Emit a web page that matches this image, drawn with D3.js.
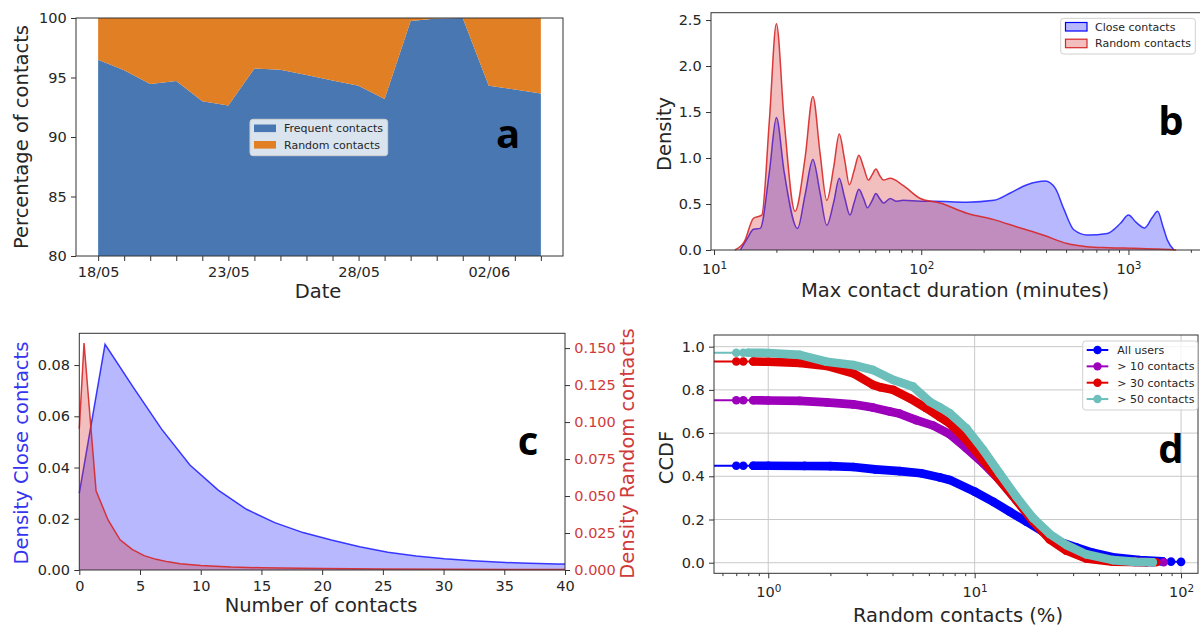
<!DOCTYPE html>
<html>
<head>
<meta charset="utf-8">
<script src="https://cdnjs.cloudflare.com/ajax/libs/d3/7.8.5/d3.min.js"></script>
<style>
  body { margin: 0; background: #fff; }
  svg { font-family: "DejaVu Sans", sans-serif; }
</style>
</head>
<body>
<svg id="fig" width="1200" height="626"></svg>
<script>
// ---------- panel a : daily share of contacts
var daysA = ['18/05/2020','19/05/2020','20/05/2020','21/05/2020','22/05/2020','23/05/2020',
  '24/05/2020','25/05/2020','26/05/2020','27/05/2020','28/05/2020','29/05/2020','30/05/2020',
  '31/05/2020','01/06/2020','02/06/2020','03/06/2020','04/06/2020'];
var frequentPct = [96.5, 95.6, 94.45, 94.7, 93.0, 92.65, 95.75, 95.65, 95.2, 94.75, 94.3, 93.2, 99.75, 99.95, 100, 94.3, 94.0, 93.65];
var randomPct = [3.5, 4.4, 5.55, 5.3, 7.0, 7.35, 4.25, 4.35, 4.8, 5.25, 5.7, 6.8, 0.25, 0.05, 0, 5.7, 6.0, 6.35];
var tickLabelsA = ['18/05', '23/05', '28/05', '02/06'];
var yTicksA = [80, 85, 90, 95, 100];
var seriesA = ['Frequent contacts', 'Random contacts'];

// ---------- panel b : max contact duration density (minutes)
var closeDurX = [13.4, 14.5, 15.5, 16.7, 18.5, 20, 21.8, 25.3, 27.5, 30, 32.5, 35, 37.8, 40.2, 42.7, 45.3, 47.5, 50, 52.7, 55, 58, 60.4, 63, 65.8, 70.8, 76, 82, 100, 115, 166, 224, 269, 324, 397, 444, 487, 545, 632, 791, 915, 1000, 1090, 1197, 1300, 1383, 1470, 1540, 1660];
var closeDurY = [0, 0.13, 0.225, 0.235, 0.85, 1.44, 0.85, 0.235, 0.6, 0.985, 0.62, 0.27, 0.52, 0.78, 0.57, 0.38, 0.52, 0.66, 0.56, 0.46, 0.54, 0.615, 0.56, 0.51, 0.56, 0.53, 0.54, 0.53, 0.53, 0.52, 0.54, 0.62, 0.71, 0.75, 0.67, 0.45, 0.22, 0.163, 0.18, 0.29, 0.38, 0.30, 0.24, 0.35, 0.42, 0.25, 0.11, 0];
var randDurX = [12.6, 14.0, 15.5, 17.0, 18.5, 20, 21.8, 24.6, 27.5, 30, 32.5, 35, 37.8, 40.2, 42.7, 45, 47.5, 50, 52.7, 55.6, 58, 60.4, 63, 65.8, 70.8, 82, 99, 123.5, 166, 224, 290, 390, 506, 632, 800, 1060, 1400, 1700];
var randDurY = [0, 0.09, 0.345, 0.38, 1.41, 2.46, 1.41, 0.42, 1.0, 1.67, 1.05, 0.54, 0.9, 1.26, 0.98, 0.71, 0.87, 1.03, 0.9, 0.76, 0.82, 0.88, 0.81, 0.76, 0.78, 0.70, 0.56, 0.51, 0.40, 0.33, 0.25, 0.16, 0.07, 0.036, 0.025, 0.018, 0.01, 0];
var yTicksB = [0, 0.5, 1.0, 1.5, 2.0, 2.5];
var densityNames = ['Close contacts', 'Random contacts'];

// ---------- panel c : number of contacts density
var closeNumX = [0, 2.12, 4.45, 6.78, 9.11, 11.44, 13.77, 16.1, 18.43, 20.76, 23.09, 25.42, 27.75, 30.08, 32.41, 34.74, 37.07, 39.4, 40];
var closeNumY = [0.030, 0.0881, 0.0713, 0.055, 0.041, 0.0312, 0.0237, 0.0185, 0.0146, 0.0117, 0.0091, 0.0069, 0.0055, 0.0044, 0.0036, 0.0030, 0.0026, 0.0023, 0.0023];
var randNumX = [0, 0.39, 1.38, 2.37, 3.36, 4.35, 5.34, 6.33, 7.32, 8.31, 10, 12.5, 15, 20, 25, 30, 40];
var randNumY = [0.0955, 0.1534, 0.0535, 0.0338, 0.0204, 0.0140, 0.0097, 0.0072, 0.0055, 0.0042, 0.0030, 0.0020, 0.0015, 0.0010, 0.0007, 0.0005, 0.0003];
var xTicksC = [0, 5, 10, 15, 20, 25, 30, 35, 40];
var yTicksCL = [0, 0.02, 0.04, 0.06, 0.08];
var yTicksCR = [0, 0.025, 0.05, 0.075, 0.1, 0.125, 0.15];

// ---------- panel d : CCDF of random contacts (%)
var allUsersX = [0, 0.70, 0.757, 0.846, 1.0, 1.5, 2.0, 2.58, 3.3, 4.33, 5.5, 6.77, 7.57, 10, 12.3, 14.8, 17.8, 21.4, 25.8, 31, 37.4, 46.7, 62.8, 81.5, 89.4, 100];
var allUsersY = [0.449, 0.449, 0.449, 0.449, 0.449, 0.448, 0.447, 0.443, 0.432, 0.424, 0.414, 0.395, 0.383, 0.329, 0.282, 0.236, 0.19, 0.144, 0.097, 0.071, 0.046, 0.025, 0.0125, 0.006, 0.005, 0.004];
var tenX = [0, 0.70, 0.757, 0.846, 1.0, 1.42, 1.92, 2.58, 3.22, 3.88, 4.33, 5.22, 6.29, 7.57, 9.12, 11, 13.2, 15.9, 19.2, 23.1, 27.8, 34.7, 46.7, 60, 72.9, 82.4];
var tenY = [0.752, 0.752, 0.752, 0.752, 0.751, 0.749, 0.742, 0.733, 0.718, 0.70, 0.69, 0.66, 0.635, 0.595, 0.53, 0.46, 0.383, 0.29, 0.198, 0.12, 0.067, 0.028, 0.009, 0.004, 0.002, 0.002];
var thirtyX = [0, 0.70, 0.757, 0.846, 1.0, 1.42, 1.92, 2.58, 3.22, 3.5, 4.03, 4.85, 5.84, 6.77, 7.57, 9.12, 11, 13.2, 15.9, 19.2, 23.1, 27.8, 34.7, 46.7, 67.7, 75.7];
var thirtyY = [0.931, 0.931, 0.931, 0.931, 0.93, 0.925, 0.911, 0.877, 0.823, 0.812, 0.80, 0.761, 0.715, 0.675, 0.645, 0.568, 0.475, 0.383, 0.29, 0.19, 0.108, 0.056, 0.02, 0.005, 0.002, 0.002];
var fiftyX = [0, 0.70, 0.757, 0.80, 1.0, 1.42, 1.92, 2.58, 3.22, 4.03, 5.03, 6.06, 6.77, 7.57, 9.12, 11, 13.2, 15.9, 19.2, 23.1, 27.8, 34.7, 46.7, 60, 72.9];
var fiftyY = [0.972, 0.972, 0.972, 0.972, 0.971, 0.962, 0.93, 0.915, 0.892, 0.846, 0.815, 0.745, 0.72, 0.692, 0.622, 0.522, 0.414, 0.306, 0.206, 0.133, 0.082, 0.039, 0.012, 0.004, 0.002];
// index range where the markers pile up into a solid band
var allUsersBand = [3, 23], tenBand = [3, 24], thirtyBand = [3, 24], fiftyBand = [3, 24];
var ccdfNames = ['All users', '> 10 contacts', '> 30 contacts', '> 50 contacts'];
var yTicksD = [0, 0.2, 0.4, 0.6, 0.8, 1.0];

var svg = d3.select('#fig');
var TXT = '#262626', SPINE = '#333';

function styleAxis(g, color) {
  g.select('.domain').remove();
  g.selectAll('.tick line').attr('stroke', SPINE);
  g.selectAll('.tick text').attr('fill', color || TXT).attr('font-size', 14.5)
    .attr('font-family', '"DejaVu Sans", sans-serif');
  return g;
}
function supTicks(g) {
  // 10^k labels like matplotlib's log formatter
  g.selectAll('.tick text').each(function (d) {
    var t = d3.select(this);
    t.text('10');
    t.append('tspan').attr('dy', '-0.5em').attr('font-size', '0.72em').text(Math.round(Math.log10(d)));
  });
}
function frame(x0, y0, x1, y1) {
  svg.append('rect').attr('x', x0).attr('y', y0).attr('width', x1 - x0).attr('height', y1 - y0)
    .attr('fill', 'none').attr('stroke', SPINE).attr('stroke-width', 1);
}
function yLabel(txt, x, y, color) {
  svg.append('text').attr('transform', 'translate(' + x + ',' + y + ') rotate(-90)')
    .attr('text-anchor', 'middle').attr('font-size', 19.5).attr('fill', color || TXT).text(txt);
}
function xLabel(txt, x, y) {
  svg.append('text').attr('x', x).attr('y', y).attr('text-anchor', 'middle')
    .attr('font-size', 19.5).attr('fill', TXT).text(txt);
}
function tag(txt, x, y) {
  svg.append('text').attr('x', x).attr('y', y).attr('text-anchor', 'middle')
    .attr('font-family', '"Open Sans", sans-serif').attr('font-weight', 700)
    .attr('font-size', 40).attr('fill', '#000').text(txt);
}
function logMinor(lo, hi) {
  var out = [];
  for (var e = Math.floor(Math.log10(lo)); e <= Math.ceil(Math.log10(hi)); e++) {
    for (var m = 2; m <= 9; m++) {
      var v = m * Math.pow(10, e);
      if (v >= lo && v <= hi) out.push(v);
    }
  }
  return out;
}

// =============== a ===============
(function () {
  var L = 76, R = 563, T = 18, B = 256;
  var parseDay = d3.timeParse('%d/%m/%Y');
  var dates = daysA.map(parseDay);
  var pad = 0.85 * 864e5;
  var x = d3.scaleTime().domain([new Date(+dates[0] - pad), new Date(+dates[dates.length - 1] + pad)]).range([L, R]);
  var y = d3.scaleLinear().domain([80, 100]).range([B, T]).clamp(true);
  var colors = ['#4877b1', '#e17f25'];

  var rows = dates.map(function (d, i) { return { date: d, frequent: frequentPct[i], random: randomPct[i] }; });
  var stacked = d3.stack().keys(['frequent', 'random'])(rows);
  var area = d3.area()
    .x(function (d) { return x(d.data.date); })
    .y0(function (d) { return y(d[0]); })
    .y1(function (d) { return y(d[1]); });
  svg.append('g').selectAll('path').data(stacked).enter().append('path')
    .attr('d', area).attr('fill', function (d, i) { return colors[i]; });

  var fmt = d3.timeFormat('%d/%m');
  styleAxis(svg.append('g').attr('transform', 'translate(0,' + B + ')')
    .call(d3.axisBottom(x).tickValues(dates).tickSize(5).tickPadding(5.5)
      .tickFormat(function (d) { var s = fmt(d); return tickLabelsA.indexOf(s) >= 0 ? s : ''; })));
  styleAxis(svg.append('g').attr('transform', 'translate(' + L + ',0)')
    .call(d3.axisLeft(y).tickValues(yTicksA).tickSize(5).tickPadding(4.3)));
  frame(L, T, R, B);

  // legend
  var lg = svg.append('g');
  lg.append('rect').attr('x', 250).attr('y', 119.3).attr('width', 137.7).attr('height', 36.4).attr('rx', 3)
    .attr('fill', '#fff').attr('fill-opacity', 0.8).attr('stroke', '#d0d0d0');
  seriesA.forEach(function (s, i) {
    lg.append('rect').attr('x', 254).attr('y', 124.5 + i * 16.5).attr('width', 22).attr('height', 7.6).attr('fill', colors[i]);
    lg.append('text').attr('x', 284).attr('y', 128.3 + i * 16.5).attr('dy', '0.35em')
      .attr('font-size', 11).attr('fill', TXT).text(s);
  });

  yLabel('Percentage of contacts', 27.5, 137);
  xLabel('Date', 318, 298);
  tag('a', 508, 148);
})();

// =============== b ===============
(function () {
  var L = 711, R = 1199, T = 12.7, B = 250;
  var x = d3.scaleLog().domain([9.67, 2190]).range([L, R]);
  var y = d3.scaleLinear().domain([0, 2.58]).range([B, T]);
  var blue = '#0000ff', red = '#d62728';

  var area = d3.area().curve(d3.curveMonotoneX)
    .x(function (d) { return x(d[0]); }).y0(B).y1(function (d) { return y(d[1]); });
  var line = d3.line().curve(d3.curveMonotoneX)
    .x(function (d) { return x(d[0]); }).y(function (d) { return y(d[1]); });
  var close = d3.zip(closeDurX, closeDurY), rand = d3.zip(randDurX, randDurY);

  svg.append('path').attr('d', area(close)).attr('fill', blue).attr('fill-opacity', 0.28);
  svg.append('path').attr('d', line(close)).attr('fill', 'none').attr('stroke', blue).attr('stroke-opacity', 0.75).attr('stroke-width', 1.5);
  svg.append('path').attr('d', area(rand)).attr('fill', red).attr('fill-opacity', 0.3);
  svg.append('path').attr('d', line(rand)).attr('fill', 'none').attr('stroke', red).attr('stroke-opacity', 0.9).attr('stroke-width', 1.5);

  var gx = styleAxis(svg.append('g').attr('transform', 'translate(0,' + B + ')')
    .call(d3.axisBottom(x).tickValues([10, 100, 1000]).tickSize(5).tickPadding(9)));
  supTicks(gx);
  styleAxis(svg.append('g').attr('transform', 'translate(0,' + B + ')')
    .call(d3.axisBottom(x).tickValues(logMinor(9.67, 2190)).tickSize(2.8).tickFormat('')));
  styleAxis(svg.append('g').attr('transform', 'translate(' + L + ',0)')
    .call(d3.axisLeft(y).tickValues(yTicksB).tickSize(5).tickPadding(4.3).tickFormat(d3.format('.1f'))));
  frame(L, T, R + 5, B);

  var lg = svg.append('g');
  lg.append('rect').attr('x', 1060.7).attr('y', 18.3).attr('width', 134.6).attr('height', 35.7).attr('rx', 3)
    .attr('fill', '#fff').attr('fill-opacity', 0.8).attr('stroke', '#d0d0d0');
  [blue, red].forEach(function (c, i) {
    lg.append('rect').attr('x', 1065.5).attr('y', 22.5 + i * 16.7).attr('width', 21.5).attr('height', 8.5)
      .attr('fill', c).attr('fill-opacity', i ? 0.3 : 0.28).attr('stroke', c).attr('stroke-width', 1.2);
    lg.append('text').attr('x', 1095).attr('y', 26.8 + i * 16.7).attr('dy', '0.35em')
      .attr('font-size', 11).attr('fill', TXT).text(densityNames[i]);
  });

  yLabel('Density', 671, 134);
  xLabel('Max contact duration (minutes)', 955, 297);
  tag('b', 1171, 135);
})();

// =============== c ===============
(function () {
  var L = 79.3, R = 565, T = 333.3, B = 570;
  var x = d3.scaleLinear().domain([0, 40]).range([L, R]);
  var yl = d3.scaleLinear().domain([0, 0.0924]).range([B, T]);
  var yr = d3.scaleLinear().domain([0, 0.160]).range([B, T]);
  var blue = '#0000ff', red = '#d62728';

  var close = d3.zip(closeNumX, closeNumY), rand = d3.zip(randNumX, randNumY);
  function areaOf(ys) {
    return d3.area().x(function (d) { return x(d[0]); }).y0(B).y1(function (d) { return ys(d[1]); });
  }
  function lineOf(ys) {
    return d3.line().x(function (d) { return x(d[0]); }).y(function (d) { return ys(d[1]); });
  }
  svg.append('path').attr('d', areaOf(yl)(close)).attr('fill', blue).attr('fill-opacity', 0.28);
  svg.append('path').attr('d', lineOf(yl)(close)).attr('fill', 'none').attr('stroke', blue).attr('stroke-opacity', 0.75).attr('stroke-width', 1.5);
  svg.append('path').attr('d', areaOf(yr)(rand)).attr('fill', red).attr('fill-opacity', 0.3);
  svg.append('path').attr('d', lineOf(yr)(rand)).attr('fill', 'none').attr('stroke', red).attr('stroke-opacity', 0.9).attr('stroke-width', 1.5);

  styleAxis(svg.append('g').attr('transform', 'translate(0,' + B + ')')
    .call(d3.axisBottom(x).tickValues(xTicksC).tickSize(5).tickPadding(5.5)));
  styleAxis(svg.append('g').attr('transform', 'translate(' + L + ',0)')
    .call(d3.axisLeft(yl).tickValues(yTicksCL).tickSize(5).tickPadding(4.3).tickFormat(d3.format('.2f'))));
  styleAxis(svg.append('g').attr('transform', 'translate(' + R + ',0)')
    .call(d3.axisRight(yr).tickValues(yTicksCR).tickSize(5).tickPadding(4.3).tickFormat(d3.format('.3f'))), '#cf3a3a');
  frame(L, T, R, B);

  yLabel('Density Close contacts', 27.5, 453, '#3535f0');
  yLabel('Density Random contacts', 634, 453.5, '#cf3a3a');
  xLabel('Number of contacts', 321, 611.5);
  tag('c', 528, 455);
})();

// =============== d ===============
(function () {
  var L = 714, R = 1198, T = 335, B = 573.3;
  var x = d3.scaleLog().domain([0.546, 120.8]).range([L, R]).clamp(true);
  var y = d3.scaleLinear().domain([-0.049, 1.054]).range([B, T]);
  var colors = ['#0000ff', '#9c00ba', '#e00000', '#6cbfbb'];
  var xs = [allUsersX, tenX, thirtyX, fiftyX];
  var ys = [allUsersY, tenY, thirtyY, fiftyY];
  var bands = [allUsersBand, tenBand, thirtyBand, fiftyBand];

  // grid
  var grid = svg.append('g').attr('stroke', '#c9c9c9').attr('stroke-width', 1);
  grid.selectAll('.gy').data(yTicksD).enter().append('line')
    .attr('x1', L).attr('x2', R).attr('y1', function (d) { return y(d); }).attr('y2', function (d) { return y(d); });
  grid.selectAll('.gx').data([1, 10, 100]).enter().append('line')
    .attr('y1', T).attr('y2', B).attr('x1', function (d) { return x(d); }).attr('x2', function (d) { return x(d); });

  var line = d3.line().x(function (d) { return x(d[0]); }).y(function (d) { return y(d[1]); });
  xs.forEach(function (xv, i) {
    var pts = d3.zip(xv, ys[i]);
    var g = svg.append('g');
    g.append('path').attr('d', line(pts)).attr('fill', 'none').attr('stroke', colors[i]).attr('stroke-width', 2);
    g.append('path').attr('d', line(pts.slice(bands[i][0], bands[i][1] + 1))).attr('fill', 'none')
      .attr('stroke', colors[i]).attr('stroke-width', 8.6).attr('stroke-linecap', 'round').attr('stroke-linejoin', 'round');
    g.selectAll('circle').data(pts.filter(function (p) { return p[0] > 0; })).enter().append('circle')
      .attr('cx', function (d) { return x(d[0]); }).attr('cy', function (d) { return y(d[1]); })
      .attr('r', 4.3).attr('fill', colors[i]);
  });

  var gx = styleAxis(svg.append('g').attr('transform', 'translate(0,' + B + ')')
    .call(d3.axisBottom(x).tickValues([1, 10, 100]).tickSize(5).tickPadding(8.5)));
  supTicks(gx);
  styleAxis(svg.append('g').attr('transform', 'translate(0,' + B + ')')
    .call(d3.axisBottom(x).tickValues(logMinor(0.546, 120.8)).tickSize(2.8).tickFormat('')));
  styleAxis(svg.append('g').attr('transform', 'translate(' + L + ',0)')
    .call(d3.axisLeft(y).tickValues(yTicksD).tickSize(5).tickPadding(4.3).tickFormat(d3.format('.1f'))));
  frame(L, T, R, B);

  var lg = svg.append('g');
  lg.append('rect').attr('x', 1082.7).attr('y', 341).attr('width', 115).attr('height', 69).attr('rx', 3)
    .attr('fill', '#fff').attr('fill-opacity', 0.8).attr('stroke', '#d0d0d0');
  ccdfNames.forEach(function (s, i) {
    var yy = 350 + i * 16.35;
    lg.append('line').attr('x1', 1086.7).attr('x2', 1108.3).attr('y1', yy).attr('y2', yy)
      .attr('stroke', colors[i]).attr('stroke-width', 2);
    lg.append('circle').attr('cx', 1097.5).attr('cy', yy).attr('r', 4.2).attr('fill', colors[i]);
    lg.append('text').attr('x', 1117.3).attr('y', yy).attr('dy', '0.35em')
      .attr('font-size', 11).attr('fill', TXT).text(s);
  });

  yLabel('CCDF', 673, 457.5);
  xLabel('Random contacts (%)', 958, 622);
  tag('d', 1171, 463);
})();
</script>
</body>
</html>
